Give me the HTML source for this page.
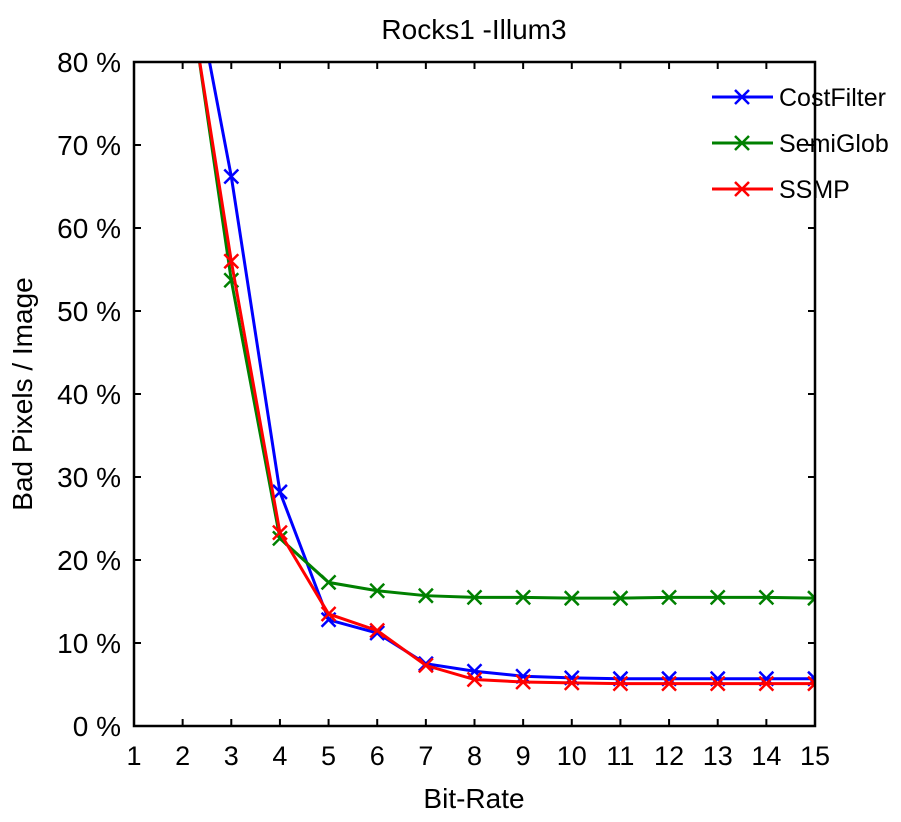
<!DOCTYPE html>
<html><head><meta charset="utf-8"><style>
body{margin:0;background:#fff}
svg text{font-family:"Liberation Sans",sans-serif;fill:#000}
</style></head><body>
<svg id="chart" width="901" height="817">
<text x="474" y="39" font-size="28" text-anchor="middle">Rocks1 -Illum3</text>
<text x="474" y="808" font-size="28" text-anchor="middle">Bit-Rate</text>
<text transform="translate(32,394) rotate(-90)" font-size="28" text-anchor="middle">Bad Pixels / Image</text>
<defs><clipPath id="clip"><rect x="134" y="62" width="681" height="664"/></clipPath></defs>
<g id="axes"></g>
<g id="series" clip-path="url(#clip)"></g>
<rect x="134" y="62" width="681" height="664" fill="none" stroke="#000" stroke-width="2.5"/>
<g id="legend"></g>
</svg>
<script>
const xCats=[2,3,4,5,6,7,8,9,10,11,12,13,14,15];
const costFilter=[97,66.2,28.2,12.8,11.2,7.5,6.6,6.0,5.8,5.7,5.7,5.7,5.7,5.7];
const semiGlob=[94,53.7,22.6,17.3,16.3,15.7,15.5,15.5,15.4,15.4,15.5,15.5,15.5,15.4];
const ssmp=[93,56,23.3,13.5,11.5,7.3,5.6,5.3,5.2,5.1,5.1,5.1,5.1,5.1];
const xTicks=[1,2,3,4,5,6,7,8,9,10,11,12,13,14,15];
const yTicks=[0,10,20,30,40,50,60,70,80];
const NS="http://www.w3.org/2000/svg";
const X=v=>134+(v-1)*(681/14);
const Y=v=>726-v*(664/80);
function mk(t,a,p){const e=document.createElementNS(NS,t);for(const k in a)e.setAttribute(k,a[k]);p.appendChild(e);return e;}
const axes=document.getElementById('axes');
xTicks.forEach(t=>{
 const tx=mk('text',{x:X(t),y:765,'font-size':27,'text-anchor':'middle'},axes);tx.textContent=t;
 
 
 mk('line',{x1:X(t),x2:X(t),y1:726,y2:719,stroke:'#000','stroke-width':2},axes);
 mk('line',{x1:X(t),x2:X(t),y1:62,y2:69,stroke:'#000','stroke-width':2},axes);
});
yTicks.forEach(t=>{
 const tx=mk('text',{x:121,y:Y(t)+10,'font-size':28,'text-anchor':'end'},axes);tx.textContent=t+' %';
 
 
 mk('line',{x1:134,x2:141,y1:Y(t),y2:Y(t),stroke:'#000','stroke-width':2},axes);
 mk('line',{x1:815,x2:808,y1:Y(t),y2:Y(t),stroke:'#000','stroke-width':2},axes);
});
const ser=document.getElementById('series'),leg=document.getElementById('legend');
const defs=[['CostFilter',costFilter,'#0000ff'],['SemiGlob',semiGlob,'#008000'],['SSMP',ssmp,'#ff0000']];
function cross(x,y,c,p){mk('path',{d:`M${x-7} ${y-7}L${x+7} ${y+7}M${x-7} ${y+7}L${x+7} ${y-7}`,stroke:c,'stroke-width':2.5},p);}
defs.forEach((d,i)=>{
 const g=mk('g',{},ser);
 
 
 mk('polyline',{points:xCats.map((x,j)=>X(x)+','+Y(d[1][j])).join(' '),fill:'none',stroke:d[2],'stroke-width':3},g);
 xCats.forEach((x,j)=>cross(X(x),Y(d[1][j]),d[2],g));
 const ly=97+i*46;
 const lg=mk('g',{},leg);
 
 
 mk('line',{x1:712,x2:773,y1:ly,y2:ly,stroke:d[2],'stroke-width':3},lg);
 cross(742,ly,d[2],lg);
 const t=mk('text',{x:779,y:ly+9,'font-size':25},lg);t.textContent=d[0];
});
</script>
</body></html>
